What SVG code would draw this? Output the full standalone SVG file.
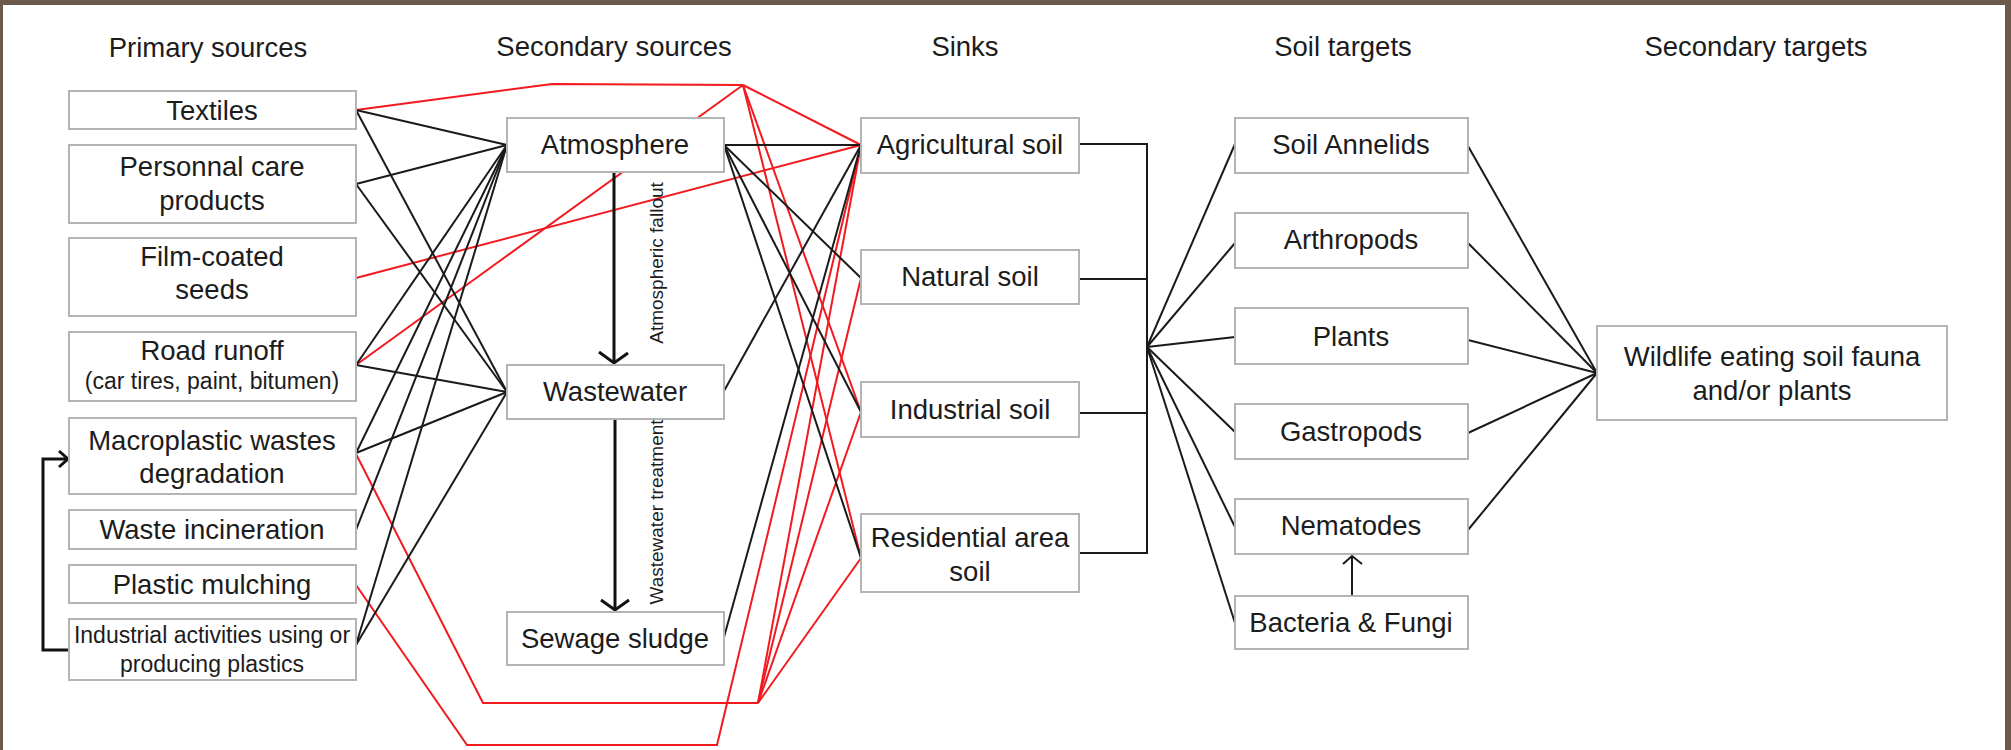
<svg xmlns="http://www.w3.org/2000/svg" width="2011" height="750" viewBox="0 0 2011 750">
<defs>
<style>
.box{fill:#fff;stroke:#b4b4b4;stroke-width:2}
.t{font-family:"Liberation Sans",Arial,sans-serif;font-size:27.5px;fill:#1c1c1c;text-anchor:middle}
.s{font-size:23px}
.r{font-size:19px}
.k{fill:none;stroke:#1a1a1a;stroke-width:2;stroke-linejoin:miter}
.red{fill:none;stroke:#f2191f;stroke-width:2}
.ar{fill:none;stroke:#111;stroke-width:3}
</style>
</defs>
<rect x="0" y="0" width="2011" height="750" fill="#fff"/>
<rect x="0" y="0" width="2011" height="5" fill="#6b5a4b"/>
<rect x="0" y="0" width="3" height="750" fill="#6b5a4b"/>
<rect x="2005" y="0" width="6" height="750" fill="#6b5a4b"/>

<g id="titles">
<text class="t" x="208" y="57">Primary sources</text>
<text class="t" x="614" y="56">Secondary sources</text>
<text class="t" x="965" y="56">Sinks</text>
<text class="t" x="1343" y="56">Soil targets</text>
<text class="t" x="1756" y="56">Secondary targets</text>
</g>

<g id="connectors">
<!-- red -->
<polyline class="red" points="356,110 552,84 743,85"/>
<line class="red" x1="356" y1="365" x2="743" y2="85"/>
<line class="red" x1="743" y1="85" x2="861" y2="145"/>
<line class="red" x1="743" y1="85" x2="861" y2="412"/>
<line class="red" x1="743" y1="85" x2="861" y2="558"/>
<line class="red" x1="356" y1="278" x2="861" y2="145"/>
<polyline class="red" points="356,454 483,703 758,703"/>
<line class="red" x1="758" y1="703" x2="861" y2="145"/>
<line class="red" x1="758" y1="703" x2="861" y2="278"/>
<line class="red" x1="758" y1="703" x2="861" y2="412"/>
<line class="red" x1="758" y1="703" x2="861" y2="558"/>
<polyline class="red" points="356,585 467,745 717,745 861,145"/>
<!-- black primary -> secondary -->
<line class="k" x1="356" y1="110" x2="507" y2="145"/>
<line class="k" x1="356" y1="110" x2="507" y2="392"/>
<line class="k" x1="356" y1="184" x2="507" y2="145"/>
<line class="k" x1="356" y1="184" x2="507" y2="392"/>
<line class="k" x1="356" y1="365" x2="507" y2="145"/>
<line class="k" x1="356" y1="365" x2="507" y2="392"/>
<line class="k" x1="356" y1="453" x2="507" y2="145"/>
<line class="k" x1="356" y1="453" x2="507" y2="392"/>
<line class="k" x1="356" y1="530" x2="507" y2="145"/>
<line class="k" x1="356" y1="645" x2="507" y2="145"/>
<line class="k" x1="356" y1="645" x2="507" y2="392"/>
<!-- secondary -> sinks -->
<line class="k" x1="724" y1="145" x2="861" y2="145"/>
<line class="k" x1="724" y1="145" x2="861" y2="278"/>
<line class="k" x1="724" y1="145" x2="861" y2="412"/>
<line class="k" x1="724" y1="145" x2="861" y2="558"/>
<line class="k" x1="724" y1="391" x2="861" y2="145"/>
<line class="k" x1="724" y1="637" x2="861" y2="145"/>
<!-- sinks bracket -->
<polyline class="k" points="1079,144 1147,144 1147,553 1079,553"/>
<line class="k" x1="1079" y1="279" x2="1147" y2="279"/>
<line class="k" x1="1079" y1="413" x2="1147" y2="413"/>
<!-- fan to soil targets -->
<line class="k" x1="1147" y1="347" x2="1235" y2="144"/>
<line class="k" x1="1147" y1="347" x2="1235" y2="243"/>
<line class="k" x1="1147" y1="347" x2="1235" y2="337"/>
<line class="k" x1="1147" y1="347" x2="1235" y2="432"/>
<line class="k" x1="1147" y1="347" x2="1235" y2="527"/>
<line class="k" x1="1147" y1="347" x2="1235" y2="623"/>
<!-- soil targets -> wildlife -->
<line class="k" x1="1468" y1="146" x2="1597" y2="373"/>
<line class="k" x1="1468" y1="243" x2="1597" y2="373"/>
<line class="k" x1="1468" y1="340" x2="1597" y2="373"/>
<line class="k" x1="1468" y1="433" x2="1597" y2="373"/>
<line class="k" x1="1468" y1="530" x2="1597" y2="373"/>
<!-- arrows -->
<polyline class="ar" points="69,650 43,650 43,459 67,459"/>
<polyline class="ar" points="59,451 68,459 59,467"/>
<line class="ar" x1="614" y1="172" x2="614" y2="362"/>
<polyline class="ar" points="599,352 614,363 628,353"/>
<line class="ar" x1="615" y1="419" x2="615" y2="609"/>
<polyline class="ar" points="601,600 615,610 629,600"/>
<line class="k" x1="1352" y1="596" x2="1352" y2="556"/>
<polyline class="k" points="1343,564 1352,556 1362,564"/>
<text class="t r" transform="translate(663,263) rotate(-90)">Atmospheric fallout</text>
<text class="t r" transform="translate(663,512) rotate(-90)">Wastewater treatment</text>
</g>

<g id="n-textiles"><rect class="box" x="69" y="91" width="287" height="38"/><text class="t" x="212" y="120">Textiles</text></g>
<g id="n-personal"><rect class="box" x="69" y="145" width="287" height="78"/><text class="t" x="212" y="176">Personnal care</text><text class="t" x="212" y="210">products</text></g>
<g id="n-film"><rect class="box" x="69" y="238" width="287" height="78"/><text class="t" x="212" y="266">Film-coated</text><text class="t" x="212" y="299">seeds</text></g>
<g id="n-road"><rect class="box" x="69" y="332" width="287" height="69"/><text class="t" x="212" y="360">Road runoff</text><text class="t s" x="212" y="389">(car tires, paint, bitumen)</text></g>
<g id="n-macro"><rect class="box" x="69" y="418" width="287" height="76"/><text class="t" x="212" y="450">Macroplastic wastes</text><text class="t" x="212" y="483">degradation</text></g>
<g id="n-waste"><rect class="box" x="69" y="510" width="287" height="39"/><text class="t" x="212" y="539">Waste incineration</text></g>
<g id="n-mulch"><rect class="box" x="69" y="565" width="287" height="38"/><text class="t" x="212" y="594">Plastic mulching</text></g>
<g id="n-industrial"><rect class="box" x="69" y="619" width="287" height="61"/><text class="t s" x="212" y="643">Industrial activities using or</text><text class="t s" x="212" y="672">producing plastics</text></g>

<g id="n-atmosphere"><rect class="box" x="507" y="118" width="217" height="54"/><text class="t" x="615" y="154">Atmosphere</text></g>
<g id="n-wastewater"><rect class="box" x="507" y="365" width="217" height="54"/><text class="t" x="615" y="401">Wastewater</text></g>
<g id="n-sludge"><rect class="box" x="507" y="612" width="217" height="53"/><text class="t" x="615" y="648">Sewage sludge</text></g>

<g id="n-agri"><rect class="box" x="861" y="118" width="218" height="55"/><text class="t" x="970" y="154">Agricultural soil</text></g>
<g id="n-natural"><rect class="box" x="861" y="250" width="218" height="54"/><text class="t" x="970" y="286">Natural soil</text></g>
<g id="n-indsoil"><rect class="box" x="861" y="382" width="218" height="55"/><text class="t" x="970" y="419">Industrial soil</text></g>
<g id="n-resid"><rect class="box" x="861" y="514" width="218" height="78"/><text class="t" x="970" y="547">Residential area</text><text class="t" x="970" y="581">soil</text></g>

<g id="n-annelids"><rect class="box" x="1235" y="118" width="233" height="55"/><text class="t" x="1351" y="154">Soil Annelids</text></g>
<g id="n-arthropods"><rect class="box" x="1235" y="213" width="233" height="55"/><text class="t" x="1351" y="249">Arthropods</text></g>
<g id="n-plants"><rect class="box" x="1235" y="308" width="233" height="56"/><text class="t" x="1351" y="346">Plants</text></g>
<g id="n-gastropods"><rect class="box" x="1235" y="404" width="233" height="55"/><text class="t" x="1351" y="441">Gastropods</text></g>
<g id="n-nematodes"><rect class="box" x="1235" y="499" width="233" height="55"/><text class="t" x="1351" y="535">Nematodes</text></g>
<g id="n-bacteria"><rect class="box" x="1235" y="596" width="233" height="53"/><text class="t" x="1351" y="632">Bacteria &amp; Fungi</text></g>

<g id="n-wildlife"><rect class="box" x="1597" y="326" width="350" height="94"/><text class="t" x="1772" y="366">Wildlife eating soil fauna</text><text class="t" x="1772" y="400">and/or plants</text></g>
</svg>
